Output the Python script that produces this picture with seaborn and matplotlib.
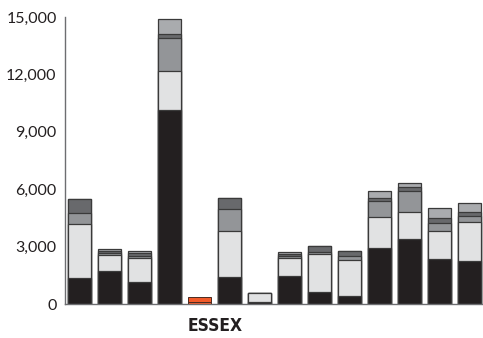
import numpy as np
import pandas as pd
import matplotlib
matplotlib.use('Agg')
import matplotlib.pyplot as plt
from matplotlib import font_manager
import seaborn as sns

# values, one list per stacked layer (bottom -> top)
regions = ['R1', 'R2', 'R3', 'R4', 'ESSEX', 'R6', 'R7',
           'R8', 'R9', 'R10', 'R11', 'R12', 'R13', 'R14']
black_seg = [1350, 1730, 1170, 10160, 130, 1400, 130, 1480, 640, 435, 2950, 3400, 2360, 2270]
light_seg = [2820, 820, 1250, 2040, 210, 2390, 430, 910, 1990, 1865, 1620, 1400, 1440, 2010]
mid_seg = [610, 130, 110, 1710, 0, 1170, 0, 120, 110, 230, 790, 1130, 420, 340]
dark_seg = [700, 90, 120, 210, 0, 570, 0, 90, 300, 260, 170, 180, 250, 180]
top_seg = [0, 90, 110, 800, 0, 0, 0, 100, 0, 0, 350, 220, 570, 470]
highlight = 'ESSEX'
y_ticks = [0, 3000, 6000, 9000, 12000, 15000]

layers = [black_seg, light_seg, mid_seg, dark_seg, top_seg]
layer_colors = ['#231f20', '#e1e2e3', '#939598', '#68696c', '#a9abae']
essex_color = '#f15a29'

df = pd.DataFrame({'region': regions})
cum = np.cumsum(np.array(layers), axis=0)

sns.set_style('white')
avail = {f.name for f in font_manager.fontManager.ttflist}
tick_font = 'Lato' if 'Lato' in avail else 'DejaVu Sans'
plt.rcParams['font.family'] = [tick_font, 'DejaVu Sans']

# look for a bold condensed face for the region label
label_prop = font_manager.FontProperties(family='DejaVu Sans', weight='bold', size=11)
for f in font_manager.fontManager.ttflist:
    fn = f.fname.lower()
    if ('narrow' in fn or 'condensed' in fn) and 'bold' in fn and 'italic' not in fn and 'oblique' not in fn:
        label_prop = font_manager.FontProperties(fname=f.fname, size=12.5)
        break

fig = plt.figure(figsize=(4.83, 3.38), dpi=100)
ax = fig.add_axes([65 / 483, 1 - 304 / 338, (483 - 65) / 483, (304 - 17) / 338])

# draw cumulative totals from the top layer down, so each layer covers the one above
hi = regions.index(highlight)
for k in range(len(layers) - 1, -1, -1):
    df['val'] = cum[k]
    n0 = len(ax.patches)
    sns.barplot(data=df, x='region', y='val', color=layer_colors[k],
                width=0.77, edgecolor='#3a3a3a', linewidth=0.9,
                ax=ax, saturation=1)
    bar = ax.patches[n0:][hi]
    if cum[k][hi] > (cum[k - 1][hi] if k > 0 else 0):
        bar.set_facecolor(essex_color)
        bar.set_edgecolor('#4a2a20')
        bar.set_linewidth(0.7)
    else:
        bar.set_visible(False)

ax.set_xlim(-0.483, 13.45)
ax.set_ylim(0, 15000)
ax.set_yticks(y_ticks)
ax.set_yticklabels([f'{v:,}' for v in y_ticks])
ax.set_xlabel('')
ax.set_ylabel('')

ax.set_xticks([])
ax.set_xticks(np.arange(len(regions) - 1) + 0.5, minor=True)
ax.annotate(highlight, xy=(hi - 0.4, 0), xycoords=('data', 'axes fraction'),
            xytext=(0, -9.5), textcoords='offset points', ha='left', va='top',
            fontproperties=label_prop, color='#231f20')
ax.tick_params(axis='x', which='minor', direction='in', length=4, width=0.8, color='#777777')
ax.tick_params(axis='y', direction='in', length=7.5, width=0.9, color='#666666',
               labelsize=11.5, labelcolor='#231f20', pad=6)

for s in ['top', 'right']:
    ax.spines[s].set_visible(False)
for s in ['left', 'bottom']:
    ax.spines[s].set_color('#6d6e71')
    ax.spines[s].set_linewidth(1.0)

fig.savefig('out.png', dpi=100)
